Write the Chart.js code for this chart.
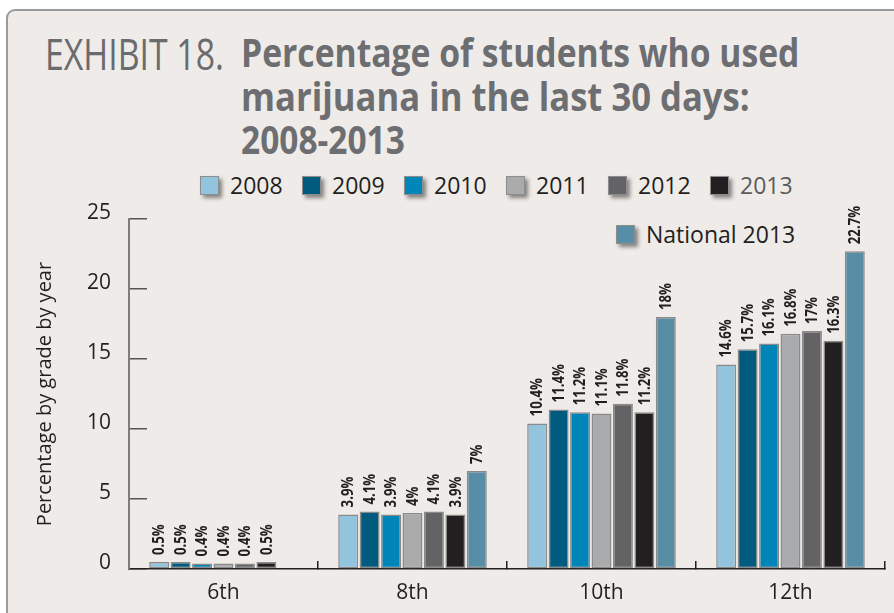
<!DOCTYPE html>
<html>
<head>
<meta charset="utf-8">
<script src="https://cdn.jsdelivr.net/npm/chart.js@4/dist/chart.umd.min.js"></script>
<style>
  html, body { margin: 0; padding: 0; background: #ffffff; }
  body { width: 894px; height: 613px; position: relative; overflow: hidden; font-family: "Open Sans", "Noto Sans", sans-serif; }
  #frame { position: absolute; left: 6px; top: 9px; width: 940px; height: 660px; border: 2px solid #9b9b9b; border-radius: 9px; background: #efebe8; }
  .tline { position: absolute; white-space: nowrap; line-height: 1; transform-origin: 0 0; color: #6d6e71; }
  .exh { font-weight: 400; color: #6a6b6e; }
  .bold { font-weight: 700; }
  #legend { position: absolute; left: 0; top: 0; width: 894px; height: 260px; }
  .lg-item { position: absolute; display: flex; align-items: center; height: 24px; }
  .lg-box { width: 17px; height: 17px; border: 1.5px solid #8d8d8d; box-shadow: 3px 3px 4px rgba(0,0,0,0.45); margin-right: 11px; }
  .lg-text { font-size: 23px; color: #231f20; line-height: 1; white-space: nowrap; }
  canvas { position: absolute; left: 0; top: 0; }
</style>
</head>
<body>
<div id="frame"></div>
<div class="tline exh" id="t0" data-w="179" data-base="70" style="left:45px;font-size:44px">EXHIBIT 18.</div>
<div class="tline bold" id="t1" data-w="558" data-base="68" style="left:241px;font-size:40px">Percentage of students who used</div>
<div class="tline bold" id="t2" data-w="509" data-base="112" style="left:241px;font-size:40px">marijuana in the last 30 days:</div>
<div class="tline bold" id="t3" data-w="164" data-base="155" style="left:241px;font-size:40px">2008-2013</div>
<div id="legend"></div>
<canvas id="chart" width="894" height="613"></canvas>
<script>
// Grades on the x axis
const grades = ['6th', '8th', '10th', '12th'];
// Survey years
const years = ['2008', '2009', '2010', '2011', '2012', '2013'];
// Percent of students reporting use in the last 30 days, by year
const y2008 = [0.5, 3.9, 10.4, 14.6];
const y2009 = [0.5, 4.1, 11.4, 15.7];
const y2010 = [0.4, 3.9, 11.2, 16.1];
const y2011 = [0.4, 4, 11.1, 16.8];
const y2012 = [0.4, 4.1, 11.8, 17];
const y2013 = [0.5, 3.9, 11.2, 16.3];
// National comparison (no 6th grade figure)
const national2013 = [null, 7, 18, 22.7];
const nationalLabel = 'National 2013';
// Value axis ticks
const yTicks = [0, 5, 10, 15, 20, 25];

const yearSeries = [y2008, y2009, y2010, y2011, y2012, y2013];
const yearColors = ['#93c4dd', '#005b7f', '#0085b9', '#aaabad', '#636365', '#231f20'];
const nationalColor = '#578da5';

// Title lines: squeeze each line to its set width and place on its baseline
document.querySelectorAll('.tline').forEach(el => {
  const fs = parseFloat(el.style.fontSize);
  el.style.top = (parseFloat(el.dataset.base) - fs * 0.888) + 'px';
  const s = parseFloat(el.dataset.w) / el.offsetWidth;
  el.style.transform = 'scaleX(' + s + ')';
});

const datasets = yearSeries.map((d, i) => ({
  label: years[i],
  data: d,
  backgroundColor: yearColors[i],
  borderColor: '#8a8a8a',
  borderWidth: 1.5,
  borderSkipped: false
}));
datasets.push({
  label: nationalLabel,
  data: national2013,
  backgroundColor: nationalColor,
  borderColor: '#8a8a8a',
  borderWidth: 1.5,
  borderSkipped: false
});

// Rotated value labels above each bar
const valueLabels = {
  id: 'valueLabels',
  afterDatasetsDraw(chart) {
    const ctx = chart.ctx;
    ctx.save();
    ctx.font = 'bold 16.5px "Open Sans", "Noto Sans", sans-serif';
    ctx.fillStyle = '#231f20';
    ctx.textAlign = 'left';
    ctx.textBaseline = 'middle';
    chart.data.datasets.forEach((ds, i) => {
      const meta = chart.getDatasetMeta(i);
      meta.data.forEach((bar, j) => {
        const v = ds.data[j];
        if (v === null || v === undefined) return;
        ctx.save();
        ctx.translate(bar.x + 0.5, bar.y - 7);
        ctx.rotate(-Math.PI / 2);
        ctx.scale(0.8, 1);
        ctx.fillText(v + '%', 0, 0);
        ctx.restore();
      });
    });
    ctx.restore();
  }
};

// Legend built from the datasets: years on one row, the national bar below
const htmlLegend = {
  id: 'htmlLegend',
  afterUpdate(chart) {
    const box = document.getElementById('legend');
    box.innerHTML = '';
    chart.data.datasets.forEach((ds, i) => {
      const item = document.createElement('div');
      item.className = 'lg-item';
      const isNational = i === chart.data.datasets.length - 1;
      if (isNational) {
        item.style.left = '616px';
        item.style.top = '222px';
      } else {
        item.style.left = (200 + i * 102) + 'px';
        item.style.top = '173px';
      }
      const sq = document.createElement('span');
      sq.className = 'lg-box';
      sq.style.background = ds.backgroundColor;
      const tx = document.createElement('span');
      tx.className = 'lg-text';
      tx.textContent = ds.label;
      if (ds.label === '2013') tx.style.color = '#5a5b5d';
      item.appendChild(sq);
      item.appendChild(tx);
      box.appendChild(item);
    });
  }
};

new Chart(document.getElementById('chart'), {
  type: 'bar',
  data: { labels: grades, datasets: datasets },
  plugins: [valueLabels, htmlLegend],
  options: {
    responsive: false,
    devicePixelRatio: 1,
    animation: false,
    layout: { padding: { left: 0, top: 219, right: 9, bottom: 0 } },
    datasets: { bar: { categoryPercentage: 0.794, barPercentage: 0.93 } },
    plugins: {
      legend: { display: false },
      title: { display: false },
      tooltip: { enabled: false }
    },
    scales: {
      x: {
        grid: { drawOnChartArea: false, drawTicks: true, tickLength: -8, color: '#231f20', lineWidth: 1.5 },
        border: { display: true, color: '#231f20', width: 1.5 },
        ticks: { padding: 19, color: '#231f20', font: { family: '"Open Sans", "Noto Sans", sans-serif', size: 21 } },
        afterFit(scale) { scale.height = 44; }
      },
      y: {
        min: 0,
        max: 25,
        afterBuildTicks(scale) { scale.ticks = yTicks.map(v => ({ value: v })); },
        grid: { drawOnChartArea: false, drawTicks: true, tickLength: -18, color: '#555555', lineWidth: 1.5 },
        border: { display: true, color: '#7d7d7d', width: 2 },
        ticks: { padding: 36, labelOffset: -6, color: '#231f20', font: { family: '"Open Sans", "Noto Sans", sans-serif', size: 21 } },
        title: {
          display: true,
          text: 'Percentage by grade by year',
          color: '#231f20',
          font: { family: '"Open Sans", "Noto Sans", sans-serif', size: 20 },
          padding: { top: 33, bottom: 0 }
        },
        afterFit(scale) {
          scale.width = 129;
          scale.paddingTop = 0;
          scale.paddingBottom = 0;
        }
      }
    }
  }
});
</script>
</body>
</html>
